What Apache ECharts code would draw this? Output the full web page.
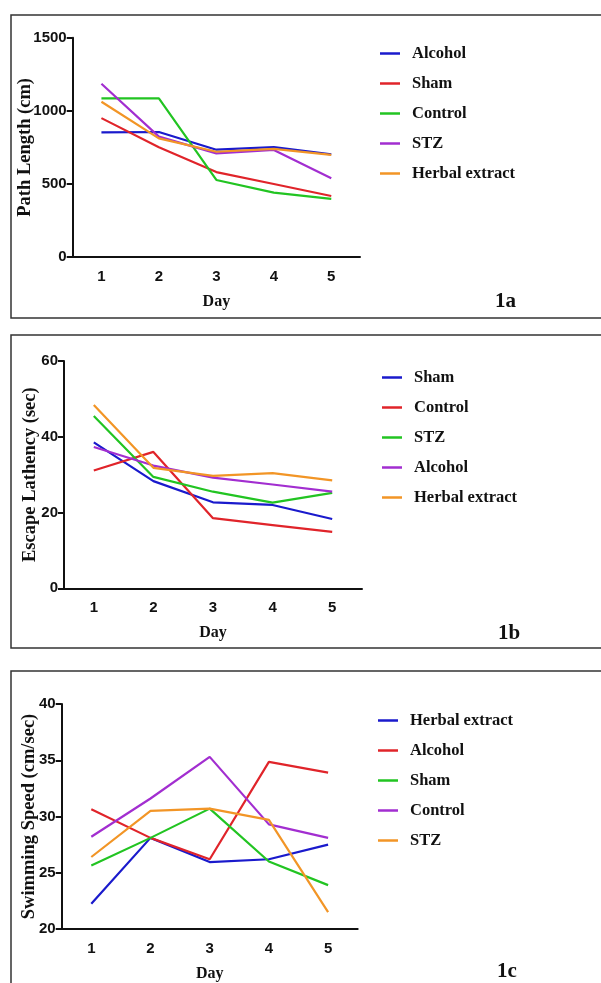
<!DOCTYPE html>
<html><head><meta charset="utf-8">
<script src="https://cdn.jsdelivr.net/npm/echarts@6/dist/echarts.min.js"></script>
<style>html,body{margin:0;padding:0;background:#fff;}#c{width:601px;height:983px;}</style>
</head><body><div id="c"></div>
<script>
const days = ['1','2','3','4','5'];

// Panel 1a: Path Length (cm)
const names1a = ['Alcohol','Sham','Control','STZ','Herbal extract'];
const alcohol1a = [852, 855, 734, 752, 702];
const sham1a = [950, 750, 581, 499, 417];
const control1a = [1085, 1085, 527, 440, 397];
const stz1a = [1185, 823, 709, 732, 538];
const herbal1a = [1062, 811, 720, 739, 698];
const ticks1a = [0, 500, 1000, 1500];

// Panel 1b: Escape Lathency (sec)
const names1b = ['Sham','Control','STZ','Alcohol','Herbal extract'];
const sham1b = [38.5, 28.3, 22.7, 22.0, 18.3];
const control1b = [31.1, 36.0, 18.5, 16.7, 14.9];
const stz1b = [45.5, 29.4, 25.5, 22.6, 25.2];
const alcohol1b = [37.3, 32.4, 29.2, 27.4, 25.5];
const herbal1b = [48.4, 31.8, 29.7, 30.4, 28.5];
const ticks1b = [0, 20, 40, 60];

// Panel 1c: Swimming Speed (cm/sec)
const names1c = ['Herbal extract','Alcohol','Sham','Control','STZ'];
const herbal1c = [22.25, 28.1, 25.95, 26.2, 27.5];
const alcohol1c = [30.65, 28.1, 26.2, 34.85, 33.9];
const sham1c = [25.65, 28.1, 30.7, 26.0, 23.9];
const control1c = [28.2, 31.6, 35.3, 29.3, 28.1];
const stz1c = [26.4, 30.5, 30.7, 29.7, 21.5];
const ticks1c = [20, 25, 30, 35, 40];

const colors = ['#1a1acc', '#e0242a', '#22c422', '#a22ed0', '#f29526'];
const serif = '"Liberation Serif", "DejaVu Serif", serif';
const sans = '"Liberation Sans", Arial, sans-serif';

const panels = [
  {tag:'1a', names:names1a, data:[alcohol1a, sham1a, control1a, stz1a, herbal1a], ticks:ticks1a,
   yName:'Path Length (cm)', grid:{left:72.7, top:37.7, width:287.3, height:219.3}, yGap:38,
   legend:{left:380, top:45}, label:{x:495, y:300}, frame:{y:15, h:303}},
  {tag:'1b', names:names1b, data:[sham1b, control1b, stz1b, alcohol1b, herbal1b], ticks:ticks1b,
   yName:'Escape Lathency (sec)', grid:{left:64, top:361, width:298, height:227.3}, yGap:24,
   legend:{left:382, top:369}, label:{x:498, y:632}, frame:{y:335, h:313}},
  {tag:'1c', names:names1c, data:[herbal1c, alcohol1c, sham1c, control1c, stz1c], ticks:ticks1c,
   yName:'Swimming Speed (cm/sec)', grid:{left:61.7, top:704, width:296, height:225.3}, yGap:23,
   legend:{left:378, top:712}, label:{x:497, y:970}, frame:{y:671, h:340}}
];

const option = {
  animation:false,
  backgroundColor:'#fff',
  grid:[], xAxis:[], yAxis:[], legend:[], series:[], graphic:[]
};

panels.forEach((p, i) => {
  option.graphic.push({type:'rect', shape:{x:11, y:p.frame.y, width:620, height:p.frame.h},
    style:{fill:null, stroke:'#333', lineWidth:1.5}, z:-1});
  option.graphic.push({type:'text', left:p.label.x, top:p.label.y - 9,
    style:{text:p.tag, font:'bold 21px ' + serif, fill:'#111'}});
  option.grid.push(Object.assign({containLabel:false}, p.grid));
  option.xAxis.push({
    type:'category', gridIndex:i, data:days, boundaryGap:true,
    name:'Day', nameLocation:'middle', nameGap:37,
    nameTextStyle:{fontFamily:serif, fontWeight:'bold', fontSize:16, color:'#111'},
    axisLine:{lineStyle:{color:'#111', width:2}},
    axisTick:{alignWithLabel:true, length:6, lineStyle:{width:2, color:'#111'}},
    axisLabel:{fontFamily:sans, fontWeight:'bold', fontSize:15, color:'#111', margin:12},
    splitLine:{show:false}
  });
  const mn = p.ticks[0], mx = p.ticks[p.ticks.length-1];
  option.yAxis.push({
    type:'value', gridIndex:i, min:mn, max:mx, interval:p.ticks[1]-p.ticks[0],
    name:p.yName, nameLocation:'middle', nameGap:p.yGap, nameRotate:90, nameMoveOverlap:false,
    nameTextStyle:{fontFamily:serif, fontWeight:'bold', fontSize:18.5, color:'#111'},
    axisLine:{show:true, lineStyle:{color:'#111', width:2}},
    axisTick:{show:true, length:6, lineStyle:{width:2, color:'#111'}},
    axisLabel:{fontFamily:sans, fontWeight:'bold', fontSize:15, color:'#111', margin:6,
      formatter: v => String(v)},
    splitLine:{show:false}
  });
  option.legend.push({
    orient:'vertical', left:p.legend.left, top:p.legend.top, padding:0,
    data:p.names.map(n => ({name: p.tag + '|' + n})),
    formatter: n => n.split('|')[1],
    icon:'rect', itemWidth:20, itemHeight:2.5, itemGap:13,
    textStyle:{fontFamily:serif, fontWeight:'bold', fontSize:16.5, color:'#111', lineHeight:17, padding:[0,0,0,7]},
    selectedMode:false
  });
  p.names.forEach((n, k) => {
    option.series.push({
      type:'line', name:p.tag + '|' + n, xAxisIndex:i, yAxisIndex:i,
      data:p.data[k], symbol:'none', color:colors[k],
      lineStyle:{width:2.2, color:colors[k]}
    });
  });
});

const chart = echarts.init(document.getElementById('c'), null, {renderer:'canvas'});
chart.setOption(option);
</script></body></html>
